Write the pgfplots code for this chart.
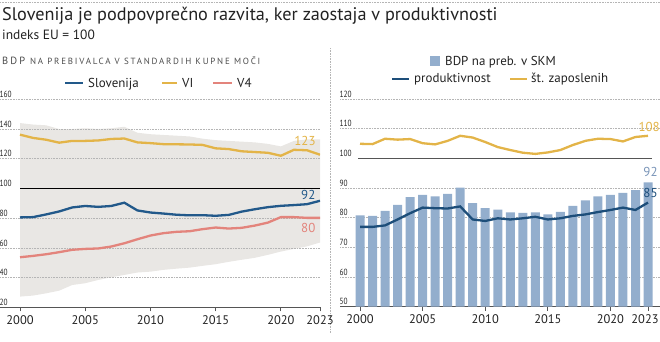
\documentclass[border=0pt]{standalone}
\usepackage{pgfplots}
\pgfplotsset{compat=1.18}
\usepgfplotslibrary{fillbetween}
\usepackage{fontspec}
\setmainfont{PT Sans}
\newfontfamily\condfont[FakeStretch=0.82]{PT Sans}
\newfontfamily\spacedfont[LetterSpace=20]{PT Sans}
\definecolor{slo}{HTML}{22598A}
\definecolor{vi}{HTML}{E3B448}
\definecolor{vfour}{HTML}{E3847C}
\definecolor{band}{HTML}{E9E7E4}
\definecolor{bars}{HTML}{93AECD}
\definecolor{barlab}{HTML}{7A95B8}
\definecolor{prod}{HTML}{1D4E7A}
\definecolor{gridc}{HTML}{B5B5B5}
\definecolor{axisgray}{HTML}{555555}
\definecolor{txt}{HTML}{222222}
\pgfplotsset{panel/.style={scale only axis, axis x line=bottom, axis y line=left,
  y axis line style={draw=none}, x axis line style={-, draw=axisgray, line width=1.2bp},
  ytick style={draw=none}, xtick style={draw=axisgray, line width=0.8bp},
  major tick length=4bp, tick align=outside,
  xtick={2000,2005,2010,2015,2020,2023},
  xticklabel style={font=\fontsize{12.5}{14}\selectfont, text=txt, inner sep=0pt, yshift=-4bp},
  yticklabel style={font=\condfont\fontsize{9}{10}\selectfont, text=txt, anchor=south west, inner sep=0pt, xshift=3.5bp, yshift=1.5bp},
  /pgf/number format/assume math mode=true,
  clip mode=individual},
  grid line/.style={gridc, densely dotted, line width=0.6bp, forget plot}}
\begin{document}
\begin{tikzpicture}[x=1bp,y=1bp]
\draw[gridc, densely dotted, line width=0.6bp] (0,339) -- (660,339);
\draw[gridc, densely dotted, line width=0.6bp] (330,293) -- (330,8);
\node[anchor=base west, inner sep=0, text=txt, font=\fontsize{18.3}{21}\selectfont] at (2,321) {Slovenija je podpovprečno razvita, ker zaostaja v produktivnosti};
\node[anchor=base west, inner sep=0, text=txt, font=\fontsize{13.5}{15}\selectfont] at (2,302) {indeks EU = 100};
\node[anchor=base west, inner sep=0, text=black!70] at (2,277) {\spacedfont\fontsize{10.5}{12}\selectfont BDP \fontsize{9}{10}\selectfont NA PREBIVALCA V STANDARDIH KUPNE MOČI};
% left legend
\draw[slo, line width=2.5bp] (65,258) -- (83,258);
\node[anchor=base west, inner sep=0, text=txt, font=\fontsize{13}{15}\selectfont] at (88,253.7) {Slovenija};
\draw[vi, line width=2.5bp] (162,258) -- (177,258);
\node[anchor=base west, inner sep=0, text=txt, font=\fontsize{13}{15}\selectfont] at (182,253.7) {VI};
\draw[vfour, line width=2.5bp] (213,258) -- (232,258);
\node[anchor=base west, inner sep=0, text=txt, font=\fontsize{13}{15}\selectfont] at (237,253.7) {V4};
% right legend
\fill[bars] (430,275) rectangle (440,285);
\node[anchor=base west, inner sep=0, text=txt, font=\fontsize{13}{15}\selectfont] at (445,276) {BDP na preb. v SKM};
\draw[prod, line width=2.5bp] (392,262) -- (409,262);
\node[anchor=base west, inner sep=0, text=txt, font=\fontsize{13}{15}\selectfont] at (414,258.3) {produktivnost};
\draw[vi, line width=2.5bp] (510,262) -- (527,262);
\node[anchor=base west, inner sep=0, text=txt, font=\fontsize{13}{15}\selectfont] at (531,258.3) {št. zaposlenih};

\begin{axis}[panel, at={(0bp,33.7bp)}, anchor=south west, width=320bp, height=208bp,
  xmin=1998.466, xmax=2023, ymin=20, ymax=160, ytick={20,40,...,160},
  xticklabels={2000,2005,2010,2015,2020,2023}]
\addplot[name path=up, draw=none, forget plot] coordinates {
(2000,144)(2001,143)(2002,142.5)(2003,140)(2004,140)(2005,140.5)(2006,140)(2007,140.5)(2008,141.5)(2009,137.5)(2010,136.5)(2011,136)(2012,135.5)(2013,135)(2014,133.5)(2015,132.5)(2016,132)(2017,131.5)(2018,131)(2019,130)(2020,128.3)(2021,132)(2022,133)(2023,133)};
\addplot[name path=lo, draw=none, forget plot] coordinates {
(2000,27.2)(2001,27.9)(2002,29.4)(2003,31.2)(2004,35)(2005,36.2)(2006,38.4)(2007,40.2)(2008,41.8)(2009,43.4)(2010,44)(2011,45.2)(2012,46)(2013,46.7)(2014,47.9)(2015,49)(2016,50.6)(2017,52)(2018,53.3)(2019,55.3)(2020,57.5)(2021,59.3)(2022,61)(2023,63.6)};
\addplot[band, draw=none, forget plot] fill between[of=up and lo];
\addplot[grid line] coordinates {(1998.466,40)(2023,40)};
\addplot[grid line] coordinates {(1998.466,60)(2023,60)};
\addplot[grid line] coordinates {(1998.466,80)(2023,80)};
\addplot[grid line] coordinates {(1998.466,120)(2023,120)};
\addplot[grid line] coordinates {(1998.466,140)(2023,140)};
\addplot[grid line] coordinates {(1998.466,160)(2023,160)};
\addplot[black, line width=1.3bp, forget plot] coordinates {(2000,100)(2023,100)};
\addplot[vi, line width=2.3bp] coordinates {
(2000,136.2)(2001,134)(2002,132.8)(2003,130.8)(2004,132)(2005,132)(2006,132.3)(2007,133.3)(2008,133.6)(2009,131)(2010,130.5)(2011,129.8)(2012,129.7)(2013,129.6)(2014,129.3)(2015,127)(2016,126.5)(2017,125)(2018,124.5)(2019,124)(2020,122)(2021,126)(2022,125.7)(2023,122.7)};
\addplot[vfour, line width=2.3bp] coordinates {
(2000,53.7)(2001,54.6)(2002,55.7)(2003,57.1)(2004,58.7)(2005,59.3)(2006,59.6)(2007,60.9)(2008,63.1)(2009,65.8)(2010,68.3)(2011,69.9)(2012,70.8)(2013,71.2)(2014,72.6)(2015,73.7)(2016,73)(2017,73.5)(2018,75)(2019,77)(2020,80.7)(2021,80.7)(2022,80.2)(2023,80.2)};
\addplot[slo, line width=2.3bp] coordinates {
(2000,80.5)(2001,80.7)(2002,82.5)(2003,84.5)(2004,87.2)(2005,88.2)(2006,87.6)(2007,88.2)(2008,90.4)(2009,85.2)(2010,83.8)(2011,83.1)(2012,82.3)(2013,81.9)(2014,82)(2015,81.6)(2016,82.2)(2017,84.4)(2018,86)(2019,87.4)(2020,88.3)(2021,88.8)(2022,89.4)(2023,91.7)};
\node[text=vi, font=\fontsize{13}{15}\selectfont] at (axis cs:2021.85,131.9) {123};
\node[text=slo, font=\fontsize{13}{15}\selectfont] at (axis cs:2022.1,95.6) {92};
\node[text=vfour, font=\fontsize{13}{15}\selectfont] at (axis cs:2022.1,73.4) {80};
\end{axis}

\begin{axis}[panel, at={(340bp,34.3bp)}, anchor=south west, width=320bp, height=207.7bp,
  xmin=1998.403, xmax=2023.958, ymin=50, ymax=120, ytick={50,60,...,120},
  xticklabels={2000,2005,2010,2015,2020,\hspace*{-6bp}2023}]
\addplot[grid line] coordinates {(1998.403,60)(2023.958,60)};
\addplot[grid line] coordinates {(1998.403,70)(2023.958,70)};
\addplot[grid line] coordinates {(1998.403,80)(2023.958,80)};
\addplot[grid line] coordinates {(1998.403,90)(2023.958,90)};
\addplot[grid line] coordinates {(1998.403,110)(2023.958,110)};
\addplot[grid line] coordinates {(1998.403,120)(2023.958,120)};
\addplot[ybar, bar width=9bp, fill=bars, draw=none] coordinates {
(2000,80.8)(2001,80.6)(2002,82.3)(2003,84.3)(2004,86.9)(2005,87.7)(2006,87.2)(2007,88)(2008,90.1)(2009,84.9)(2010,83.2)(2011,82.7)(2012,81.8)(2013,81.6)(2014,81.8)(2015,81.1)(2016,82)(2017,84)(2018,85.8)(2019,87.2)(2020,87.7)(2021,88.4)(2022,89.3)(2023,91.9)};
\addplot[axisgray, line width=1.3bp, forget plot] coordinates {(1999.84,100)(2023.3,100)};
\addplot[prod, line width=2.3bp] coordinates {
(2000,76.9)(2001,76.9)(2002,77.4)(2003,79.4)(2004,81.5)(2005,83.4)(2006,83.2)(2007,83.1)(2008,83.8)(2009,79.4)(2010,78.9)(2011,79.8)(2012,79.4)(2013,79.8)(2014,80.3)(2015,79.4)(2016,79.8)(2017,80.6)(2018,81.1)(2019,81.9)(2020,82.6)(2021,83.4)(2022,82.6)(2023,85.1)};
\addplot[vi, line width=2.3bp] coordinates {
(2000,104.9)(2001,104.8)(2002,106.6)(2003,106.3)(2004,106.5)(2005,105.1)(2006,104.7)(2007,105.9)(2008,107.6)(2009,107)(2010,105.5)(2011,103.8)(2012,102.8)(2013,101.9)(2014,101.5)(2015,102)(2016,102.8)(2017,104.5)(2018,105.9)(2019,106.6)(2020,106.5)(2021,105.7)(2022,107.2)(2023,107.6)};
\node[text=vi, font=\fontsize{13}{15}\selectfont, anchor=east, inner sep=0pt] at (axis cs:2023.95,110.7) {108};
\node[text=barlab, font=\fontsize{13}{15}\selectfont] at (axis cs:2023.2,95.5) {92};
\node[text=prod, font=\fontsize{13}{15}\selectfont] at (axis cs:2023.2,88.3) {85};
\end{axis}
\pgfresetboundingbox
\path (0,0) rectangle (660,341);
\end{tikzpicture}
\end{document}
